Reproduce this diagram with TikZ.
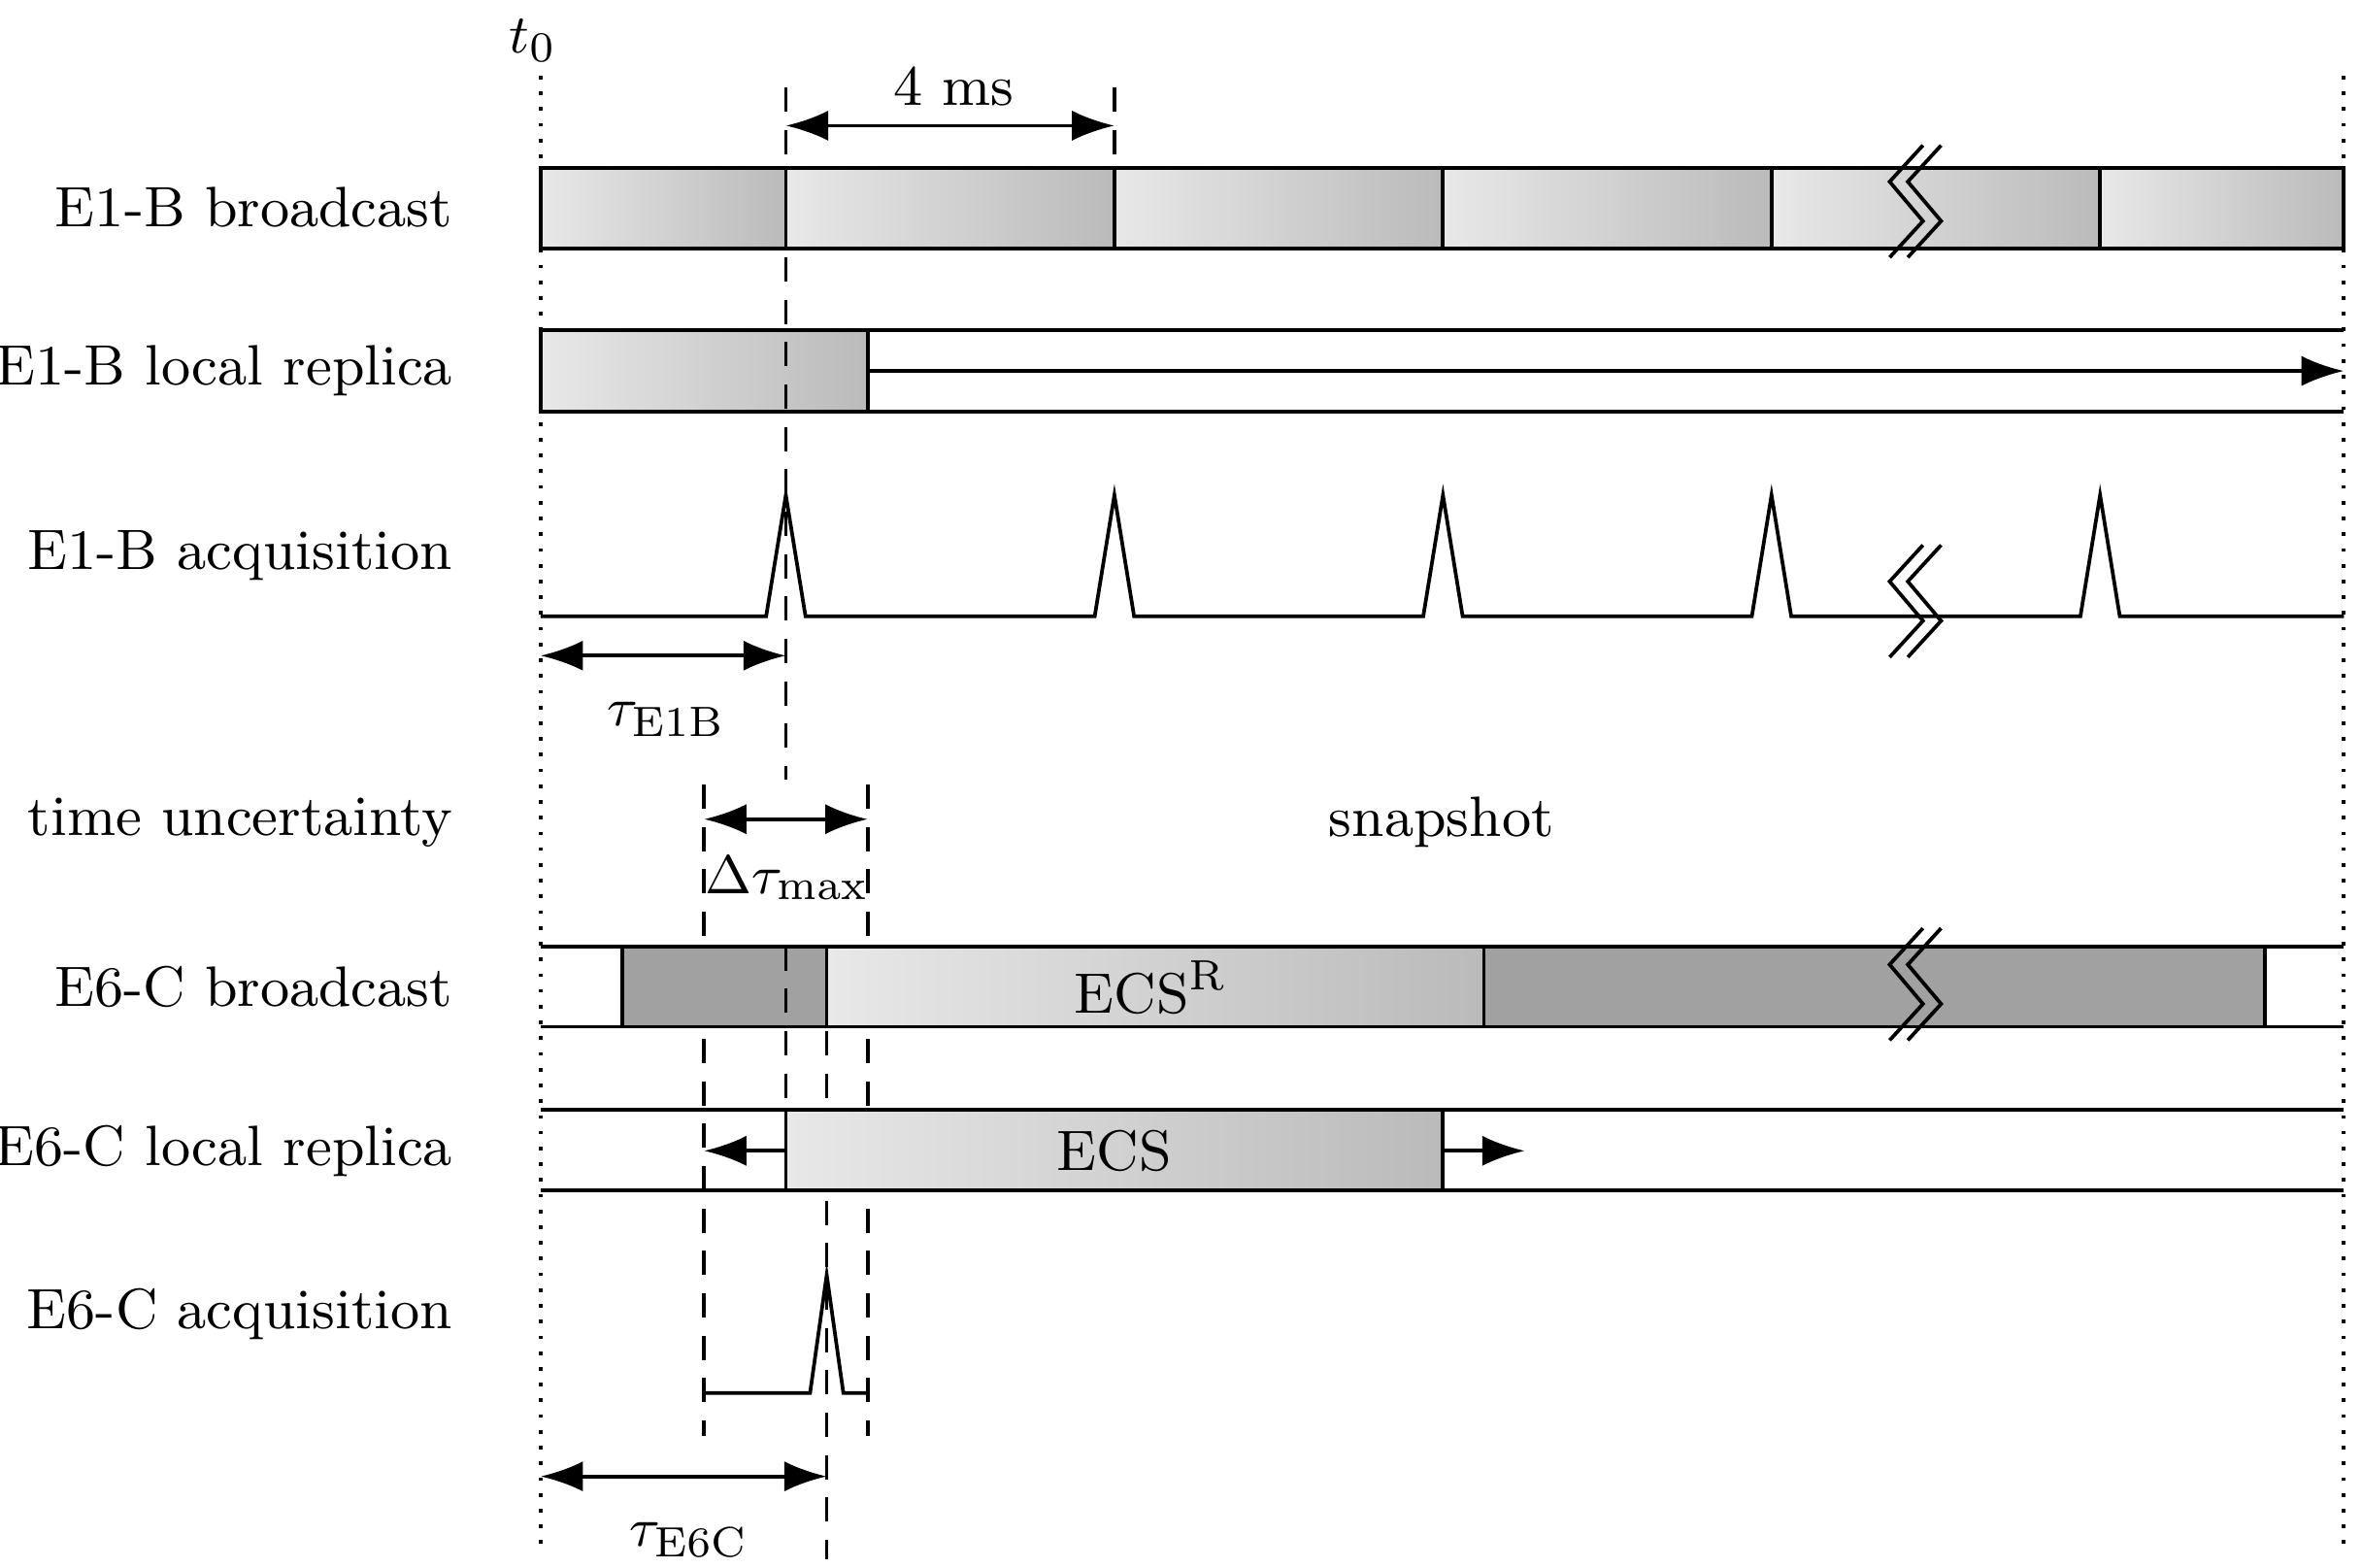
\documentclass[tikz,border=0pt]{standalone}
\usetikzlibrary{arrows.meta}
\tikzset{every picture/.style={line width=0.6pt}}
\tikzset{
  every node/.style={font=\fontsize{9.4}{11}\selectfont},
  seg/.style={draw, left color=black!9, right color=black!27},
  darkseg/.style={draw, fill=black!37},
  dim/.style={{Latex[length=7pt,width=5pt]}-{Latex[length=7pt,width=5pt]}},
  tip/.style={-{Latex[length=7pt,width=5pt]}},
  guide/.style={dashed, dash pattern=on 4pt off 3pt},
  rowlabel/.style={anchor=east, inner sep=0pt},
}
\newcommand{\brk}[2]{% break mark centred at (#1,#2)
  \foreach \dx in {0,12}
    \draw[fill=none] (#1+11+\dx,#2-37) -- (#1-11+\dx,#2-13) -- (#1+11+\dx,#2+13) -- (#1-11+\dx,#2+37);}

\begin{document}
\begin{tikzpicture}[x=0.25pt,y=-0.25pt]
\useasboundingbox (0,0) rectangle (1560,1035);

% time reference
\draw[dotted] (357,50) -- (357,1025);
\draw[dotted] (1548,50) -- (1548,1025);
\node[anchor=south, inner sep=1pt] (t0) at (352,46) {$t_0$};

% row labels
\node[rowlabel] (l1) at (300,137) {E1-B broadcast};
\node[rowlabel] (l2) at (300,245) {E1-B local replica};
\node[rowlabel] (l3) at (300,367) {E1-B acquisition};
\node[rowlabel] (l4) at (300,543) {time uncertainty};
\node[rowlabel] (l5) at (300,652) {E6-C broadcast};
\node[rowlabel] (l6) at (300,760) {E6-C local replica};
\node[rowlabel] (l7) at (300,868) {E6-C acquisition};

% E1-B broadcast
\foreach \a/\b in {357/519,519/736,736/953,953/1170,1170/1387,1387/1548}
  \draw[seg] (\a,111) rectangle (\b,164);
\brk{1259}{133}

% E1-B local replica
\draw (357,218) -- (1548,218) (357,272) -- (1548,272);
\draw[seg] (357,218) rectangle (573,272);
\coordinate (r1a) at (573,245);
\coordinate (r1b) at (1548,245);
\draw[tip] (r1a) -- (r1b);

% E1-B acquisition
\draw (357,407) \foreach \p in {519,736,953,1170,1387}
  { -- (\p-13,407) -- (\p,327) -- (\p+13,407) } -- (1548,407);
\brk{1259}{397}

% 4 ms period
\draw[guide] (519,58) -- (519,515);
\draw[guide] (736,58) -- (736,111);
\coordinate (pa) at (519,83);
\coordinate (pb) at (736,83);
\draw[dim] (pa) -- (pb);
\node (ms) at (630,57) {4 ms};

% tau E1B
\coordinate (e1a) at (357,433);
\coordinate (e1b) at (519,433);
\draw[dim] (e1a) -- (e1b);
\node (tau1) at (440,475) {$\tau_{\mathrm{E1B}}$};

% time uncertainty
\draw[guide] (465,518) -- (465,948);
\draw[guide] (573,518) -- (573,948);
\coordinate (ua) at (465,541);
\coordinate (ub) at (573,541);
\draw[dim] (ua) -- (ub);
\node (dtau) at (520,580) {$\Delta\tau_{\mathrm{max}}$};
\node (snap) at (952,543) {snapshot};

% E6-C broadcast
\draw (357,625) -- (1548,625) (357,678) -- (1548,678);
\draw[darkseg] (411,625) rectangle (546,678);
\draw[seg] (546,625) rectangle (980,678);
\draw[darkseg] (980,625) rectangle (1496,678);
\node (ecsr) at (760,652) {ECS$^{\mathrm{R}}$};
\brk{1259}{650}
\draw[guide] (546,625) -- (546,1030);
\draw[guide] (519,625) -- (519,733);

% E6-C local replica
\draw (357,733) -- (1548,733) (357,786) -- (1548,786);
\draw[seg] (519,733) rectangle (953,786);
\node (ecs) at (736,760) {ECS};
\coordinate (la) at (519,760);
\coordinate (lb) at (465,760);
\coordinate (lc) at (953,760);
\coordinate (ld) at (1007,760);
\draw[tip] (la) -- (lb);
\draw[tip] (lc) -- (ld);

% E6-C acquisition
\draw (465,920) -- (535,920) -- (546,842) -- (557,920) -- (573,920);

% tau E6C
\coordinate (e6a) at (357,975);
\coordinate (e6b) at (546,975);
\draw[dim] (e6a) -- (e6b);
\node (tau6) at (455,1017) {$\tau_{\mathrm{E6C}}$};
\end{tikzpicture}
\end{document}
